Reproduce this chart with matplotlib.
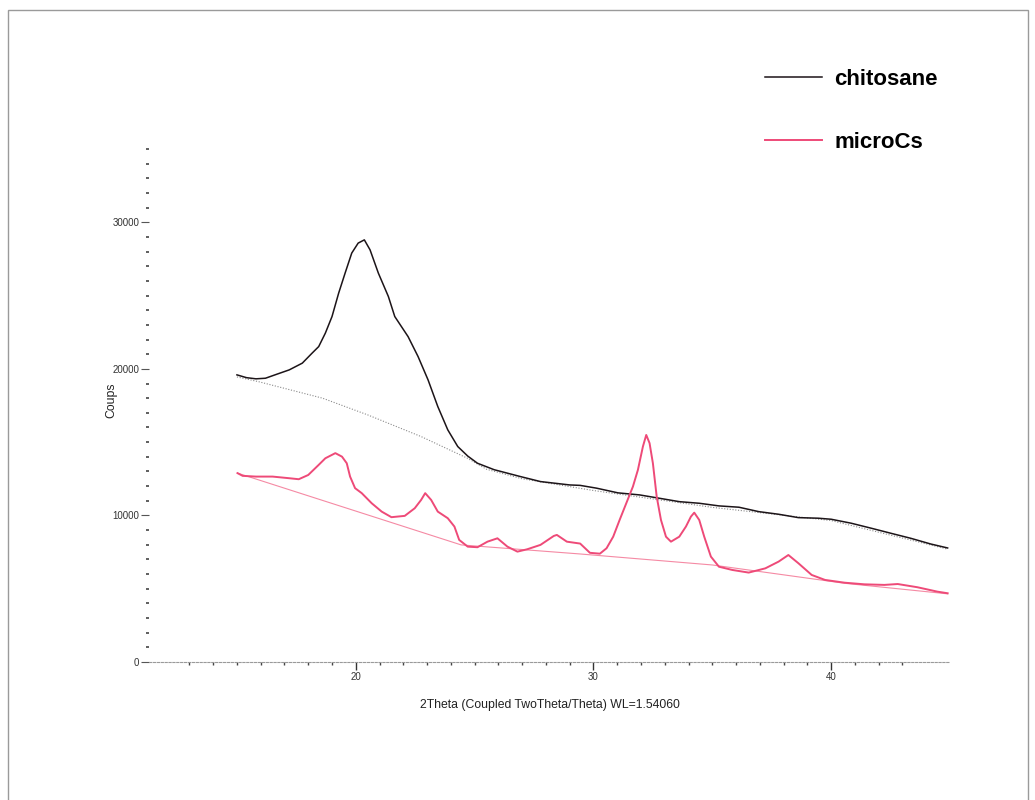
import matplotlib
matplotlib.use("Agg")
import matplotlib.pyplot as plt
from matplotlib.patches import Rectangle
from matplotlib.ticker import MultipleLocator, FixedLocator

# ===== data =====
chito_2theta = [15.0, 15.4, 15.8, 16.2, 16.6, 17.2, 17.75, 18.16, 18.44, 18.72,
                19.0, 19.28, 19.55, 19.83, 20.1, 20.36, 20.6, 20.95, 21.37, 21.64,
                22.2, 22.62, 23.04, 23.45, 23.87, 24.29, 24.71, 25.12, 25.82, 26.93,
                27.77, 29.0, 29.44, 30.13, 31.03, 31.94, 32.78, 33.61, 34.45, 35.28,
                36.12, 36.95, 37.79, 38.62, 39.46, 40.0, 40.84, 41.68, 42.52, 43.35,
                44.19, 44.9]
chito_counts = [19590, 19400, 19320, 19360, 19590, 19930, 20390, 21070, 21520, 22440,
                23570, 25170, 26530, 27900, 28580, 28800, 28120, 26530, 24940, 23570,
                22200, 20840, 19250, 17430, 15840, 14700, 14050, 13560, 13120, 12650,
                12310, 12080, 12050, 11860, 11540, 11400, 11170, 10940, 10830, 10650,
                10560, 10260, 10080, 9850, 9810, 9740, 9470, 9130, 8780, 8440,
                8050, 7780]

chito_bg_2theta = [15.0, 15.9, 18.6, 20.5, 22.75, 24.7, 25.5, 27.0, 30.0, 35.0, 40.0, 44.9]
chito_bg_counts = [19450, 19130, 18000, 16860, 15380, 13900, 13150, 12500, 11700, 10550, 9650, 7700]

micro_2theta = [15.03, 15.24, 15.8, 16.5, 17.19, 17.6, 18.0, 18.44, 18.72, 19.14,
                19.42, 19.62, 19.76, 19.97, 20.25, 20.67, 21.09, 21.5, 22.06, 22.48,
                22.75, 22.92, 23.17, 23.45, 23.87, 24.15, 24.35, 24.71, 25.12, 25.54,
                25.96, 26.38, 26.8, 27.21, 27.77, 28.33, 28.46, 28.88, 29.44, 29.85,
                30.27, 30.55, 30.83, 31.1, 31.38, 31.66, 31.87, 32.08, 32.22, 32.36,
                32.5, 32.66, 32.84, 33.05, 33.26, 33.61, 33.89, 34.1, 34.24, 34.45,
                34.66, 34.94, 35.28, 35.84, 36.53, 37.23, 37.79, 38.2, 38.62, 39.18,
                39.74, 40.57, 41.4, 42.24, 42.8, 43.63, 44.47, 44.9]
micro_counts = [12880, 12700, 12650, 12650, 12540, 12470, 12760, 13450, 13900, 14250,
                14010, 13560, 12650, 11860, 11520, 10830, 10260, 9880, 9970, 10490,
                11060, 11520, 11060, 10260, 9810, 9240, 8330, 7870, 7830, 8210,
                8440, 7870, 7530, 7690, 7990, 8600, 8670, 8210, 8080, 7450,
                7390, 7760, 8550, 9690, 10830, 11970, 13110, 14700, 15490, 14930,
                13560, 11280, 9690, 8550, 8210, 8550, 9240, 9920, 10190, 9690,
                8550, 7190, 6500, 6280, 6100, 6390, 6850, 7300, 6740, 5940,
                5600, 5410, 5300, 5260, 5320, 5100, 4800, 4690]

micro_bg_2theta = [15.0, 24.43, 29.44, 35.0, 40.57, 44.9]
micro_bg_counts = [12900, 7990, 7370, 6620, 5370, 4650]

labels = ["chitosane", "microCs"]

BLACK = "#1c1418"
PINK = "#ee4a78"

fig = plt.figure(figsize=(10.35, 8.0), dpi=100)
fig.patches.append(Rectangle((8 / 1035, -0.01), 1020 / 1035, 0.998, transform=fig.transFigure,
                             fill=False, edgecolor="#9a9a9a", linewidth=1.0))

ax = fig.add_axes([149 / 1035, 138 / 800, 801 / 1035, 513 / 800])

ax.plot(chito_bg_2theta, chito_bg_counts, color="#8a8a8a", lw=0.8, ls=(0, (1, 1.5)))
ax.plot(micro_bg_2theta, micro_bg_counts, color="#f58aa4", lw=0.8)
l1, = ax.plot(chito_2theta, chito_counts, color=BLACK, lw=1.1)
l2, = ax.plot(micro_2theta, micro_counts, color=PINK, lw=1.4)

ax.set_xlim(11.3, 45.0)
ax.set_ylim(0, 35000)

for s in ["top", "right", "left"]:
    ax.spines[s].set_visible(False)
ax.spines["bottom"].set_color("#9a9a9a")
ax.spines["bottom"].set_linewidth(0.8)
ax.spines["bottom"].set_linestyle((0, (2, 1.5)))

ax.xaxis.set_major_locator(FixedLocator([20, 30, 40]))
ax.xaxis.set_minor_locator(FixedLocator([v for v in range(13, 44) if v % 10 != 0]))
ax.yaxis.set_major_locator(MultipleLocator(10000))
ax.yaxis.set_minor_locator(MultipleLocator(1000))
ax.yaxis.set_major_formatter(matplotlib.ticker.FuncFormatter(lambda v, p: "%d" % v))

ax.tick_params(axis="x", which="major", direction="out", length=6, width=1.0,
               color="#333333", labelsize=7, labelcolor="#333333", pad=1)
ax.tick_params(axis="x", which="minor", direction="out", length=2.5, width=1.0, color="#444444")
ax.tick_params(axis="y", which="major", direction="out", length=6, width=0.8,
               color="#555555", labelsize=7, labelcolor="#333333", pad=1)
ax.tick_params(axis="y", which="minor", direction="out", length=2, width=1.2, color="#444444")
for lab in ax.get_xticklabels() + ax.get_yticklabels():
    lab.set_family("Liberation Sans")

ax.set_xlabel("2Theta (Coupled TwoTheta/Theta) WL=1.54060", fontsize=8.8,
              family="Liberation Sans", color="#222222")
ax.xaxis.set_label_coords(0.5, -0.072)
ax.set_ylabel("Coups", fontsize=8.8, family="Liberation Sans", color="#222222")
ax.yaxis.set_label_coords(-0.039, 0.51)

fig.legend([l1, l2], labels, loc="upper right", bbox_to_anchor=(0.906, 0.914),
           frameon=False, borderpad=0, borderaxespad=0, handlelength=2.55,
           handletextpad=0.55, labelspacing=1.9,
           prop={"family": "Liberation Sans", "weight": "bold", "size": 16})

fig.savefig("out.png", dpi=100)
